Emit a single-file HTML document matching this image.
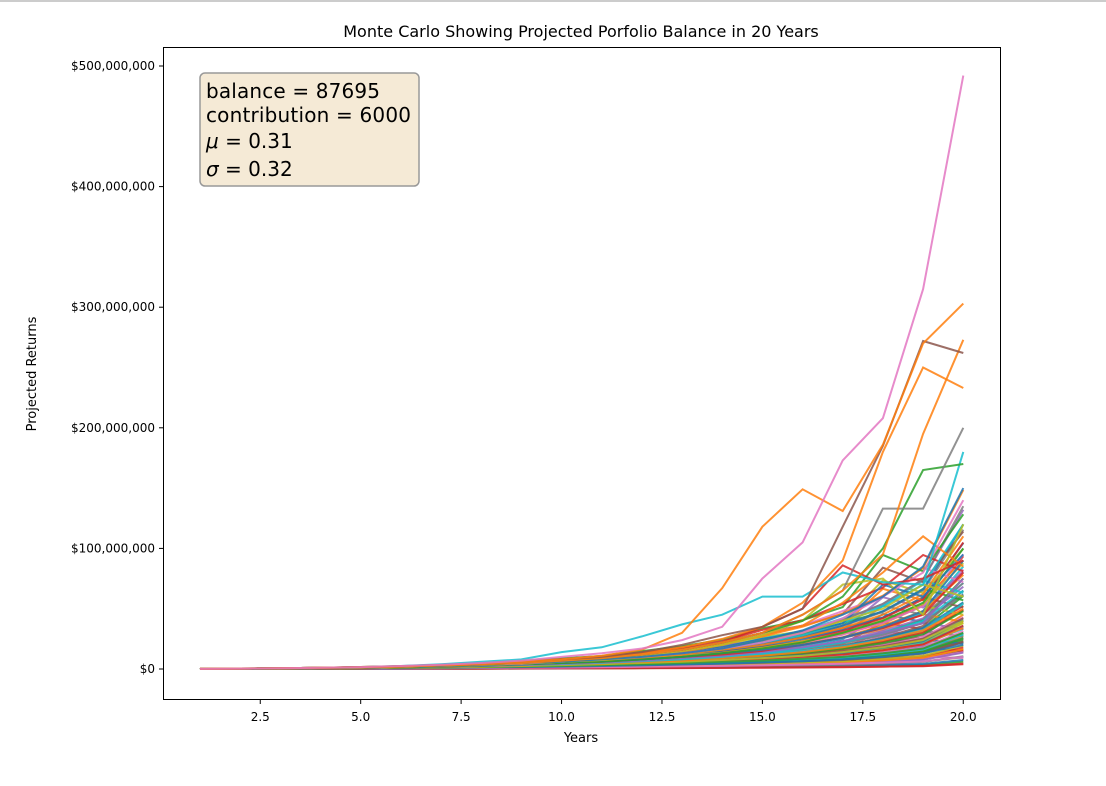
<!DOCTYPE html>
<html><head><meta charset="utf-8"><style>
body{margin:0;background:#fff;font-family:"DejaVu Sans","Liberation Sans",sans-serif;}
</style></head><body>
<div style="position:absolute;left:0;top:0;width:1106px;height:2px;background:#ccc"></div>
<svg id="chart" width="1106" height="786" style="position:absolute;left:0;top:0">
<text x="581" y="37" text-anchor="middle" font-size="16" fill="#000">Monte Carlo Showing Projected Porfolio Balance in 20 Years</text>
<text x="581" y="742" text-anchor="middle" font-size="13">Years</text>
<text transform="translate(36,374) rotate(-90)" text-anchor="middle" font-size="13">Projected Returns</text>
<g id="lines"></g>
<g id="axes"></g>
<rect x="163.5" y="47.5" width="837" height="652" fill="none" stroke="#000" stroke-width="1"/>
<g>
<rect x="200" y="73" width="219" height="113" rx="5" fill="#f5ead6" stroke="#999" stroke-width="1.5"/>
<text x="206" y="98" font-size="20" textLength="174">balance = 87695</text>
<text x="206" y="122" font-size="20" textLength="205">contribution = 6000</text>
<text x="206" y="148" font-size="20"><tspan font-style="italic">μ</tspan> = 0.31</text>
<text x="206" y="176" font-size="20"><tspan font-style="italic">σ</tspan> = 0.32</text>
</g>
</svg>
<script>
const years=[1,2,3,4,5,6,7,8,9,10,11,12,13,14,15,16,17,18,19,20];
const xTicks=[2.5,5.0,7.5,10.0,12.5,15.0,17.5,20.0];
const yTicks=[0,100,200,300,400,500];
const colors=["#1f77b4","#ff7f0e","#2ca02c","#d62728","#9467bd","#8c564b","#e377c2","#7f7f7f","#bcbd22","#17becf"];
// values in millions of dollars
const sPink=[0.09,0.3,0.6,1,1.6,2.5,3.5,5,7,10,13,17,24,35,75,105,173,208,315,492];
const sOrange1=[0.09,0.3,0.6,1,1.5,2.2,3,4,6,8,11,16,30,67,118,149,131,186,270,303];
const sBrown=[0.09,0.3,0.6,1,1.5,2.2,3,4,6,8,10,14,20,28,35,50,118,185,272,262];
const sOrange2=[0.09,0.3,0.6,1,1.5,2,3,4,6,8,10,13,18,25,35,55,90,180,250,233];
const sOrange3=[0.09,0.3,0.5,0.9,1.3,2,3,4,5,7,9,12,16,22,30,45,65,95,195,273];
const sGrey=[0.09,0.3,0.5,0.9,1.3,2,3,4,5,7,9,12,16,22,30,45,65,133,133,200];
const sGreen=[0.09,0.3,0.5,0.9,1.3,2,3,4,5,7,9,12,16,22,30,40,60,100,165,170];
const sCyan=[0.09,0.3,0.6,1,1.5,2.5,4,6,8,14,18,27,37,45,60,60,80,72,70,180];
const sRed=[0.09,0.3,0.5,0.9,1.3,2,3,4,5,7,9,12,16,22,35,50,86,70,75,90];
const sBlue=[0.09,0.3,0.5,0.8,1.2,1.8,2.5,3.5,5,6,8,10,13,17,24,32,45,60,85,150];
const sOlive=[0.09,0.3,0.5,0.8,1.2,1.8,2.5,3.5,5,6,8,11,15,20,28,40,70,75,45,120];
const sPurple=[0.09,0.3,0.5,0.8,1.2,1.8,2.5,3.5,4.5,6,8,10,13,17,22,30,42,60,80,140];
const sMid1=[0.09,0.25,0.45,0.7,1,1.5,2,3,4,5,6,8,10,13,17,22,30,40,55,100];
const sMid2=[0.09,0.25,0.45,0.7,1,1.5,2,3,4,5,6,8,10,12,15,20,26,34,45,80];
const sMid3=[0.09,0.25,0.4,0.6,0.9,1.3,1.8,2.5,3.3,4,5,6.5,8,10,13,17,22,30,40,65];
const sMid4=[0.09,0.2,0.4,0.6,0.9,1.2,1.6,2.2,3,3.8,4.6,5.8,7,9,11,14,18,24,32,50];
const sMid5=[0.09,0.2,0.35,0.5,0.8,1.1,1.4,1.9,2.5,3.2,4,5,6,7.5,9,11,14,18,24,40];
const sLow1=[0.09,0.2,0.3,0.45,0.65,0.9,1.2,1.6,2,2.6,3.2,4,5,6,7,8.5,10,13,17,30];
const sLow2=[0.09,0.18,0.28,0.4,0.55,0.75,1,1.3,1.6,2,2.5,3,3.7,4.5,5.5,6.5,8,10,13,20];
const sLow3=[0.09,0.15,0.22,0.3,0.4,0.5,0.65,0.8,1,1.2,1.5,1.8,2.2,2.6,3.1,3.7,4.4,5.2,6.2,10];
const sLow4=[0.09,0.12,0.16,0.2,0.25,0.3,0.36,0.43,0.5,0.6,0.7,0.8,0.95,1.1,1.3,1.5,1.7,2,2.3,4];
const sMid6=[0.09,0.3,0.5,0.8,1.2,1.8,2.5,3.5,5,6.5,8,10,13,17,22,28,38,52,70,120];
const sMid7=[0.09,0.3,0.5,0.8,1.2,1.7,2.4,3.3,4.5,6,7.5,9.5,12,16,20,26,34,45,62,110];
const sMid8=[0.09,0.25,0.45,0.7,1,1.4,2,2.8,3.8,5,6.5,8,10,13,16,20,26,35,48,90];
const sMid9=[0.09,0.25,0.4,0.65,0.95,1.3,1.8,2.5,3.3,4.3,5.5,7,9,11,14,18,23,30,38,75];
const sZig1=[0.09,0.3,0.5,0.8,1.2,1.8,2.6,3.6,5,6.5,8,11,14,18,25,30,38,70,60,95];
const sZig2=[0.09,0.3,0.5,0.8,1.2,1.8,2.6,3.6,5,6.5,8,11,14,20,28,36,55,80,110,85];
const sZig3=[0.09,0.3,0.5,0.8,1.2,1.7,2.4,3.3,4.5,6,7.5,10,13,17,24,30,40,50,70,60];
const series=[sLow4,sLow3,sLow2,sLow1,sMid5,sMid4,sMid3,sMid9,sMid2,sMid8,sMid1,sMid7,sMid6,sZig1,sZig2,sZig3,sPurple,sOlive,sBlue,sRed,sCyan,sGreen,sGrey,sOrange3,sOrange2,sBrown,sOrange1,sPink];
const seriesColor=[3,6,0,2,8,1,9,4,3,0,2,1,9,0,1,8,6,8,0,3,9,2,7,1,1,5,1,6];
const X=v=>200+(v-1)*(963-260)/17.5;
const Y=m=>669-m*(669-66)/500;
const NS="http://www.w3.org/2000/svg";
const lg=document.getElementById('lines');
// dense band of many low paths: scaled copies of existing series
const scales=[0.15,0.25,0.35,0.45,0.55,0.65,0.75,0.85,0.95,1.05,1.2,1.35];
scales.forEach((k,a)=>{[sMid1,sMid3,sMid5,sLow1,sMid7,sZig1,sZig3].forEach((s,b)=>{
  const p=document.createElementNS(NS,'polyline');
  p.setAttribute('points',s.map((v,j)=>X(years[j]).toFixed(1)+','+Y(v*k).toFixed(1)).join(' '));
  p.setAttribute('fill','none');p.setAttribute('stroke',colors[(a*7+b)%10]);
  p.setAttribute('stroke-width','2');p.setAttribute('stroke-opacity','0.85');
  
  
  lg.appendChild(p);
});});
series.forEach((s,i)=>{
  const p=document.createElementNS(NS,'polyline');
  p.setAttribute('points',s.map((v,j)=>X(years[j]).toFixed(1)+','+Y(v).toFixed(1)).join(' '));
  p.setAttribute('fill','none');p.setAttribute('stroke',colors[seriesColor[i]]);
  p.setAttribute('stroke-width','2');p.setAttribute('stroke-opacity','0.85');
  
  
  lg.appendChild(p);
});
const ax=document.getElementById('axes');
xTicks.forEach(t=>{
  const l=document.createElementNS(NS,'line');
  l.setAttribute('x1',X(t));l.setAttribute('x2',X(t));l.setAttribute('y1',700);l.setAttribute('y2',704);l.setAttribute('stroke','#000');
  
  
  ax.appendChild(l);
  const tx=document.createElementNS(NS,'text');
  tx.setAttribute('x',X(t));tx.setAttribute('y',721);tx.setAttribute('text-anchor','middle');tx.setAttribute('font-size','12');
  tx.textContent=t.toFixed(1);
  
  
  ax.appendChild(tx);
});
yTicks.forEach(t=>{
  const l=document.createElementNS(NS,'line');
  l.setAttribute('x1',159);l.setAttribute('x2',163);l.setAttribute('y1',Y(t));l.setAttribute('y2',Y(t));l.setAttribute('stroke','#000');
  
  
  ax.appendChild(l);
  const tx=document.createElementNS(NS,'text');
  tx.setAttribute('x',155);tx.setAttribute('y',Y(t)+4);tx.setAttribute('text-anchor','end');tx.setAttribute('font-size','12');
  tx.textContent=t===0?'$0':'$'+t+',000,000';
  
  
  ax.appendChild(tx);
});
</script>
</body></html>
